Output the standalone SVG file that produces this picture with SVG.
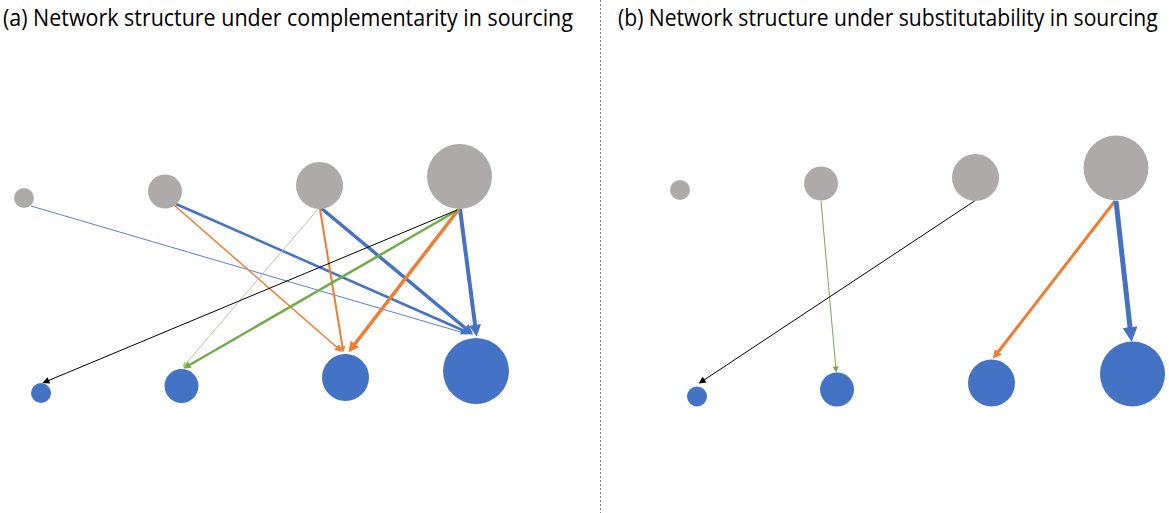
<svg xmlns="http://www.w3.org/2000/svg" width="1169" height="513" viewBox="0 0 1169 513">
  <style>
    .title { font-family: "Open Sans", "Liberation Sans", sans-serif; font-size: 23px; fill: #000; }
    .sup { fill: #AEAAAA; }
    .buy { fill: #4472C4; }
    .edge { fill: none; stroke-linecap: butt; }
    .blue { stroke: #4472C4; }
    .orange { stroke: #ED7D31; }
    .green { stroke: #70AD47; }
    .lgreen { stroke: #A9D18E; }
    .black { stroke: #000; }
  </style>
  <defs>
    <!-- arrowheads scaled by stroke width (thick lines) -->
    <marker id="hBlue" viewBox="0 0 10 10" refX="6" refY="5" markerWidth="3" markerHeight="3" orient="auto"><path d="M0,0 L10,5 L0,10 z" fill="#4472C4"/></marker>
    <marker id="hOrange" viewBox="0 0 10 10" refX="6" refY="5" markerWidth="3" markerHeight="3" orient="auto"><path d="M0,0 L10,5 L0,10 z" fill="#ED7D31"/></marker>
    <marker id="hGreen" viewBox="0 0 10 10" refX="6" refY="5" markerWidth="3" markerHeight="3" orient="auto"><path d="M0,0 L10,5 L0,10 z" fill="#70AD47"/></marker>
    <!-- arrowheads for hairline connectors -->
    <marker id="tBlue" viewBox="0 0 10 10" refX="6" refY="5" markerWidth="7" markerHeight="6" orient="auto"><path d="M0,0 L10,5 L0,10 z" fill="#4472C4"/></marker>
    <marker id="tOrange" viewBox="0 0 10 10" refX="6" refY="5" markerWidth="6" markerHeight="5" orient="auto"><path d="M0,0 L10,5 L0,10 z" fill="#ED7D31"/></marker>
    <marker id="tGreen" viewBox="0 0 10 10" refX="6" refY="5" markerWidth="8" markerHeight="6" orient="auto"><path d="M0,0 L10,5 L0,10 z" fill="#70AD47"/></marker>
    <marker id="tLGreen" viewBox="0 0 10 10" refX="6" refY="5" markerWidth="8" markerHeight="6" orient="auto"><path d="M0,0 L10,5 L0,10 z" fill="#A9D18E"/></marker>
    <marker id="tBlack" viewBox="0 0 10 10" refX="6" refY="5" markerWidth="9" markerHeight="7" orient="auto"><path d="M0,0 L10,5 L0,10 z" fill="#000"/></marker>
  </defs>

  <rect x="0" y="0" width="1169" height="513" fill="#fff"/>

  <!-- panel titles (horizontally condensed) -->
  <text class="title" transform="translate(3,26) scale(0.82,1)" x="0" y="0" textLength="695" lengthAdjust="spacingAndGlyphs">(a) Network structure under complementarity in sourcing</text>
  <text class="title" transform="translate(618,26) scale(0.78,1)" x="0" y="0" textLength="692" lengthAdjust="spacingAndGlyphs">(b) Network structure under substitutability in sourcing</text>

  <!-- panel divider -->
  <line x1="600.5" y1="0" x2="600.5" y2="513" stroke="#7F7F7F" stroke-width="1" stroke-dasharray="2,2"/>

  <!-- connectors -->
  <g id="connectors">
    <!-- panel (a) -->
    <line class="edge blue" x1="31" y1="206" x2="464" y2="333" stroke-width="0.9" marker-end="url(#tBlue)"/>
    <line class="edge blue" x1="176" y1="204" x2="469" y2="333" stroke-width="2.5" marker-end="url(#hBlue)"/>
    <line class="edge blue" x1="321" y1="208" x2="470" y2="332" stroke-width="3.5" marker-end="url(#hBlue)"/>
    <line class="edge blue" x1="460" y1="209" x2="476" y2="332" stroke-width="4" marker-end="url(#hBlue)"/>
    <line class="edge orange" x1="174" y1="205" x2="340" y2="350" stroke-width="1.5" marker-end="url(#tOrange)"/>
    <line class="edge orange" x1="320" y1="209" x2="343" y2="350" stroke-width="2" marker-end="url(#hOrange)"/>
    <line class="edge orange" x1="459" y1="209" x2="351" y2="349" stroke-width="3.5" marker-end="url(#hOrange)"/>
    <line class="edge lgreen" x1="318" y1="209" x2="184" y2="366" stroke-width="1" marker-end="url(#tLGreen)"/>
    <line class="edge green" x1="458" y1="210" x2="186" y2="367" stroke-width="2.5" marker-end="url(#hGreen)"/>
    <line class="edge black" x1="457" y1="210" x2="45" y2="382" stroke-width="1" marker-end="url(#tBlack)"/>
    <!-- panel (b) -->
    <line class="edge green" x1="821" y1="201" x2="836" y2="370" stroke-width="1" marker-end="url(#tGreen)"/>
    <line class="edge black" x1="976" y1="200" x2="701" y2="382" stroke-width="1" marker-end="url(#tBlack)"/>
    <line class="edge orange" x1="1115" y1="201" x2="995" y2="356" stroke-width="3" marker-end="url(#hOrange)"/>
    <line class="edge blue" x1="1116" y1="201" x2="1131" y2="336" stroke-width="5" marker-end="url(#hBlue)"/>
  </g>

  <!-- panel (a) suppliers -->
  <g id="a-sup1"><circle class="sup" cx="24" cy="198" r="10"/></g>
  <g id="a-sup2"><circle class="sup" cx="165" cy="191.5" r="17"/></g>
  <g id="a-sup3"><circle class="sup" cx="319.5" cy="185.5" r="23.5"/></g>
  <g id="a-sup4"><circle class="sup" cx="459.5" cy="176.5" r="32.5"/></g>
  <!-- panel (a) buyers -->
  <g id="a-buy1"><circle class="buy" cx="41" cy="393" r="10"/></g>
  <g id="a-buy2"><circle class="buy" cx="181.5" cy="386" r="17"/></g>
  <g id="a-buy3"><circle class="buy" cx="345.5" cy="377.5" r="23.5"/></g>
  <g id="a-buy4"><circle class="buy" cx="476" cy="371" r="33"/></g>

  <!-- panel (b) suppliers -->
  <g id="b-sup1"><circle class="sup" cx="680" cy="190" r="10"/></g>
  <g id="b-sup2"><circle class="sup" cx="821" cy="183.5" r="17"/></g>
  <g id="b-sup3"><circle class="sup" cx="975.5" cy="177.5" r="23.5"/></g>
  <g id="b-sup4"><circle class="sup" cx="1116" cy="168" r="32.5"/></g>
  <!-- panel (b) buyers -->
  <g id="b-buy1"><circle class="buy" cx="697" cy="396.5" r="10"/></g>
  <g id="b-buy2"><circle class="buy" cx="837" cy="389.5" r="17"/></g>
  <g id="b-buy3"><circle class="buy" cx="991.5" cy="383" r="23.5"/></g>
  <g id="b-buy4"><circle class="buy" cx="1132.5" cy="374" r="32.5"/></g>
</svg>
